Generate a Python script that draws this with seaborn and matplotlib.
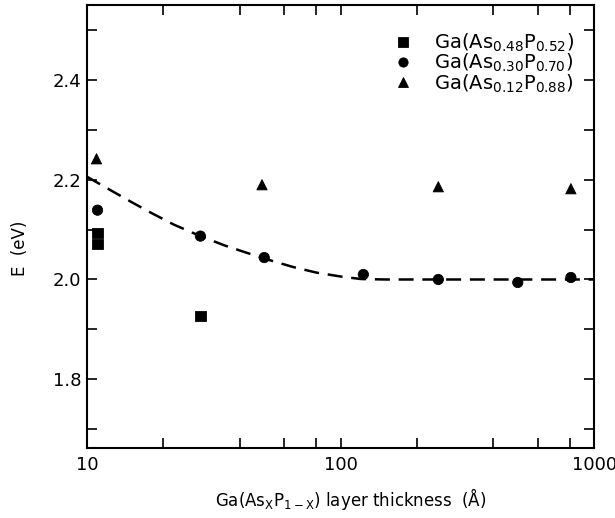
import numpy as np
import pandas as pd
import matplotlib.pyplot as plt
import seaborn as sns
from matplotlib.ticker import FixedLocator, NullFormatter

# Data
sq_x = [11, 11, 28]
sq_e = [2.093, 2.071, 1.927]
ci_x = [11, 28, 50, 123, 243, 500, 810]
ci_e = [2.139, 2.087, 2.044, 2.010, 2.000, 1.994, 2.004]
tr_x = [10.9, 49, 243, 810]
tr_e = [2.242, 2.190, 2.186, 2.182]

# dashed guide curve
fit_x = [10, 12, 15, 18, 22, 28, 35, 50, 65, 80, 100, 120, 150, 300, 1000]
fit_e = [2.206, 2.183, 2.155, 2.133, 2.110, 2.087, 2.068, 2.042, 2.025, 2.014, 2.006, 2.001, 2.000, 2.000, 2.000]

labels = [r'Ga(As$_{0.48}$P$_{0.52}$)', r'Ga(As$_{0.30}$P$_{0.70}$)', r'Ga(As$_{0.12}$P$_{0.88}$)']

df = pd.DataFrame({
    'thickness': sq_x + ci_x + tr_x,
    'E': sq_e + ci_e + tr_e,
    'alloy': [labels[0]] * len(sq_x) + [labels[1]] * len(ci_x) + [labels[2]] * len(tr_x),
})
fit = pd.DataFrame({'thickness': fit_x, 'E': fit_e})

sns.set_style('ticks', {'text.color': 'black', 'xtick.color': 'black',
                        'ytick.color': 'black', 'axes.labelcolor': 'black',
                        'axes.edgecolor': 'black'})
plt.rcParams['mathtext.fontset'] = 'dejavusans'

fig = plt.figure(figsize=(6.15, 5.18), dpi=100)
ax = fig.add_axes([0.1415, 0.135, 0.8245, 0.855])

sns.lineplot(data=fit, x='thickness', y='E', ax=ax, color='black',
             linewidth=1.8, linestyle=(0, (6, 3.5)), legend=False)
sns.scatterplot(data=df, x='thickness', y='E', style='alloy', style_order=labels,
                markers={labels[0]: 's', labels[1]: 'o', labels[2]: '^'},
                color='black', s=55, edgecolor='black', ax=ax)

ax.set_xscale('log')
ax.set_xlim(10, 1000)
ax.set_ylim(1.662, 2.55)
ax.xaxis.set_major_locator(FixedLocator([10, 100, 1000]))
ax.xaxis.set_minor_locator(FixedLocator([20, 40, 60, 80, 200, 400, 600, 800]))
ax.xaxis.set_minor_formatter(NullFormatter())
ax.set_xticklabels(['10', '100', '1000'])
ax.yaxis.set_major_locator(FixedLocator([1.8, 2.0, 2.2, 2.4]))
ax.yaxis.set_minor_locator(FixedLocator([1.7, 1.9, 2.1, 2.3, 2.5]))
ax.set_yticklabels(['1.8', '2.0', '2.2', '2.4'])

ax.tick_params(which='both', direction='in', top=True, right=True, labelsize=13,
               width=1.2, length=7)
ax.tick_params(axis='x', pad=6)
ax.tick_params(axis='y', pad=4)
for sp in ax.spines.values():
    sp.set_linewidth(1.5)

ax.set_xlabel(r'Ga(As$_{\rm X}$P$_{\rm 1-X}$) layer thickness  ($\rm\AA$)', fontsize=12)
ax.xaxis.set_label_coords(0.52, -0.085)
ax.set_ylabel('E  (eV)', fontsize=12, va='center')
ax.yaxis.set_label_coords(-0.132, 0.45)

ax.legend(loc='upper right', bbox_to_anchor=(0.995, 0.98), frameon=False,
          fontsize=14, handletextpad=0.6, labelspacing=-0.1, markerscale=0.9)

plt.savefig('out.png', dpi=100)
